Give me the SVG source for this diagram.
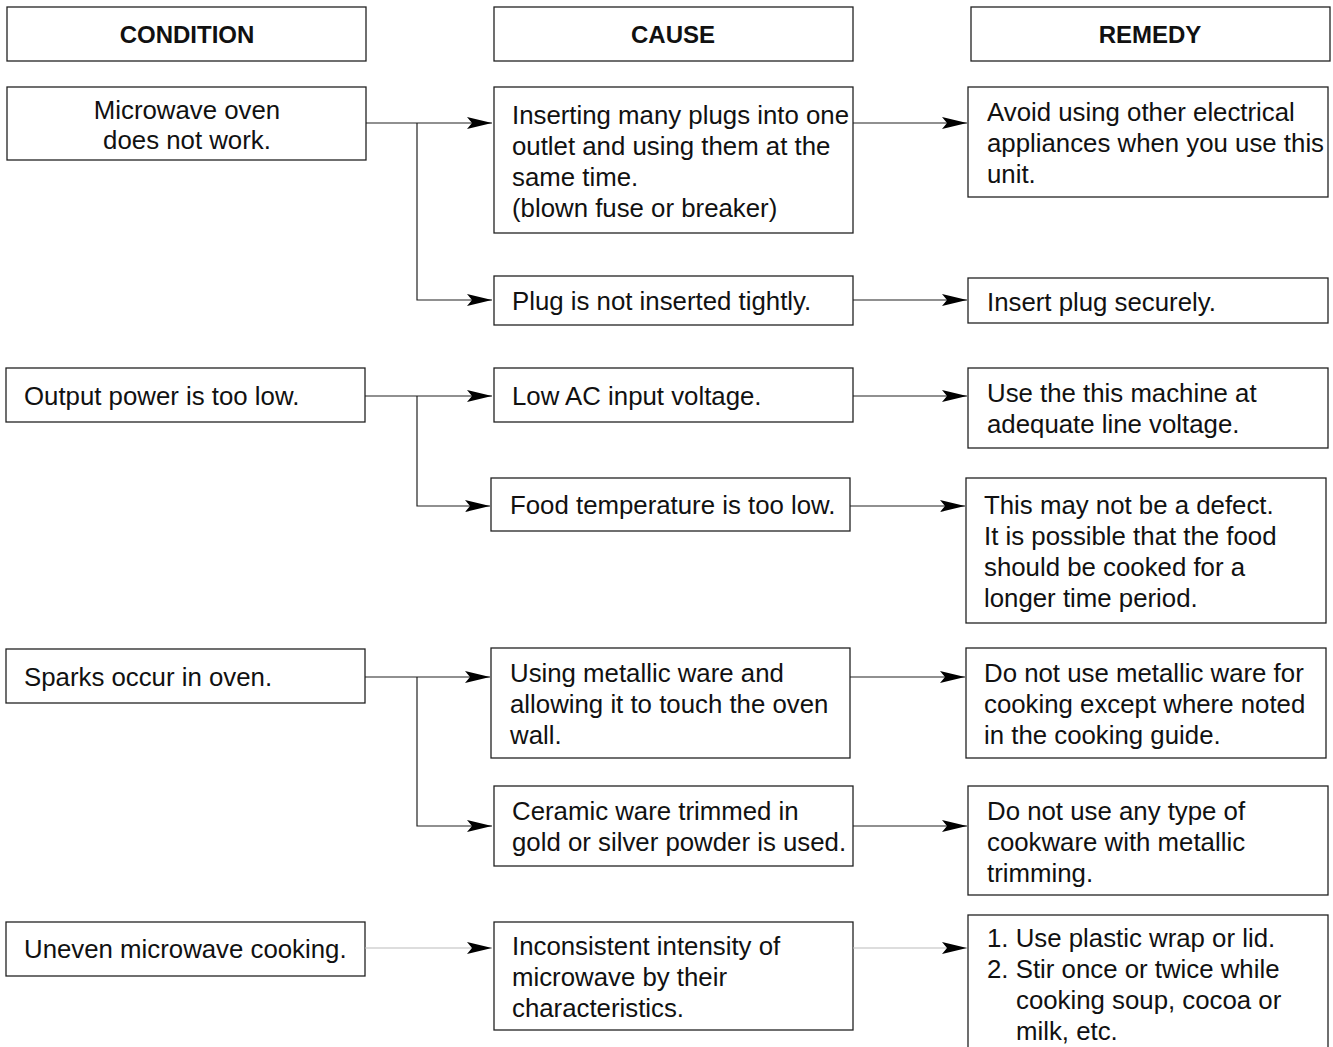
<svg xmlns="http://www.w3.org/2000/svg" width="1333" height="1047" viewBox="0 0 1333 1047">
<style>
.box{fill:#fff;stroke:#222;stroke-width:1.3}
.t{font-family:"Liberation Sans",Arial,sans-serif;font-size:25.8px;fill:#111}
.h{font-family:"Liberation Sans",Arial,sans-serif;font-size:24px;font-weight:bold;fill:#111;text-anchor:middle}
.c{text-anchor:middle}
.ln{fill:none;stroke:#222;stroke-width:1.2}
.lg{fill:none;stroke:#bbb;stroke-width:1.2}
</style>
<defs>
<marker id="ah" markerUnits="userSpaceOnUse" markerWidth="26" markerHeight="14" refX="25" refY="7" orient="auto" viewBox="0 0 26 14">
<path d="M0,1 L25,7 L0,13 L5,7 Z" fill="#000"/>
</marker>
</defs>
<rect width="1333" height="1047" fill="#fff"/>

<g id="hdr-condition"><rect class="box" x="7" y="7" width="359" height="54"/><text class="h" x="187" y="43">CONDITION</text></g>
<g id="hdr-cause"><rect class="box" x="494" y="7" width="359" height="54"/><text class="h" x="673" y="43">CAUSE</text></g>
<g id="hdr-remedy"><rect class="box" x="971" y="7" width="359" height="54"/><text class="h" x="1150" y="43">REMEDY</text></g>

<g id="cond1"><rect class="box" x="7" y="87" width="359" height="73"/><text class="t c" x="187" y="119">Microwave oven</text><text class="t c" x="187" y="149">does not work.</text></g>
<g id="cause1"><rect class="box" x="494" y="87" width="359" height="146"/>
<text class="t" x="512" y="124">Inserting many plugs into one</text>
<text class="t" x="512" y="155">outlet and using them at the</text>
<text class="t" x="512" y="186">same time.</text>
<text class="t" x="512" y="217">(blown fuse or breaker)</text></g>
<g id="remedy1"><rect class="box" x="968" y="87" width="360" height="110"/>
<text class="t" x="987" y="121">Avoid using other electrical</text>
<text class="t" x="987" y="152">appliances when you use this</text>
<text class="t" x="987" y="183">unit.</text></g>
<g id="cause2"><rect class="box" x="494" y="276" width="359" height="49"/><text class="t" x="512" y="310">Plug is not inserted tightly.</text></g>
<g id="remedy2"><rect class="box" x="968" y="278" width="360" height="45"/><text class="t" x="987" y="311">Insert plug securely.</text></g>

<g id="cond2"><rect class="box" x="6" y="368" width="359" height="54"/><text class="t" x="24" y="405">Output power is too low.</text></g>
<g id="cause3"><rect class="box" x="494" y="368" width="359" height="54"/><text class="t" x="512" y="405">Low AC input voltage.</text></g>
<g id="remedy3"><rect class="box" x="968" y="368" width="360" height="80"/>
<text class="t" x="987" y="402">Use the this machine at</text>
<text class="t" x="987" y="433">adequate line voltage.</text></g>
<g id="cause4"><rect class="box" x="491" y="478" width="359" height="53"/><text class="t" x="510" y="514">Food temperature is too low.</text></g>
<g id="remedy4"><rect class="box" x="966" y="478" width="360" height="145"/>
<text class="t" x="984" y="514">This may not be a defect.</text>
<text class="t" x="984" y="545">It is possible that the food</text>
<text class="t" x="984" y="576">should be cooked for a</text>
<text class="t" x="984" y="607">longer time period.</text></g>

<g id="cond3"><rect class="box" x="6" y="649" width="359" height="54"/><text class="t" x="24" y="686">Sparks occur in oven.</text></g>
<g id="cause5"><rect class="box" x="491" y="648" width="359" height="110"/>
<text class="t" x="510" y="682">Using metallic ware and</text>
<text class="t" x="510" y="713">allowing it to touch the oven</text>
<text class="t" x="510" y="744">wall.</text></g>
<g id="remedy5"><rect class="box" x="966" y="648" width="360" height="110"/>
<text class="t" x="984" y="682">Do not use metallic ware for</text>
<text class="t" x="984" y="713">cooking except where noted</text>
<text class="t" x="984" y="744">in the cooking guide.</text></g>
<g id="cause6"><rect class="box" x="494" y="786" width="359" height="80"/>
<text class="t" x="512" y="820">Ceramic ware trimmed in</text>
<text class="t" x="512" y="851">gold or silver powder is used.</text></g>
<g id="remedy6"><rect class="box" x="968" y="786" width="360" height="109"/>
<text class="t" x="987" y="820">Do not use any type of</text>
<text class="t" x="987" y="851">cookware with metallic</text>
<text class="t" x="987" y="882">trimming.</text></g>

<g id="cond4"><rect class="box" x="6" y="922" width="359" height="54"/><text class="t" x="24" y="958">Uneven microwave cooking.</text></g>
<g id="cause7"><rect class="box" x="494" y="922" width="359" height="108"/>
<text class="t" x="512" y="955">Inconsistent intensity of</text>
<text class="t" x="512" y="986">microwave by their</text>
<text class="t" x="512" y="1017">characteristics.</text></g>
<g id="remedy7"><rect class="box" x="968" y="915" width="360" height="140"/>
<text class="t" x="987" y="947">1. Use plastic wrap or lid.</text>
<text class="t" x="987" y="978">2. Stir once or twice while</text>
<text class="t" x="1016" y="1009">cooking soup, cocoa or</text>
<text class="t" x="1016" y="1040">milk, etc.</text></g>

<g id="connectors">
<path class="ln" d="M366,123 H492" marker-end="url(#ah)"/>
<path class="ln" d="M417,123 V300 H492" marker-end="url(#ah)"/>
<path class="ln" d="M853,123 H967" marker-end="url(#ah)"/>
<path class="ln" d="M853,300 H967" marker-end="url(#ah)"/>
<path class="ln" d="M365,396 H492" marker-end="url(#ah)"/>
<path class="ln" d="M417,396 V506 H490" marker-end="url(#ah)"/>
<path class="ln" d="M853,396 H967" marker-end="url(#ah)"/>
<path class="ln" d="M850,506 H965" marker-end="url(#ah)"/>
<path class="ln" d="M365,677 H490" marker-end="url(#ah)"/>
<path class="ln" d="M417,677 V826 H492" marker-end="url(#ah)"/>
<path class="ln" d="M850,677 H965" marker-end="url(#ah)"/>
<path class="ln" d="M853,826 H967" marker-end="url(#ah)"/>
<path class="lg" d="M365,948 H492" marker-end="url(#ah)"/>
<path class="lg" d="M853,948 H967" marker-end="url(#ah)"/>
</g>
</svg>
